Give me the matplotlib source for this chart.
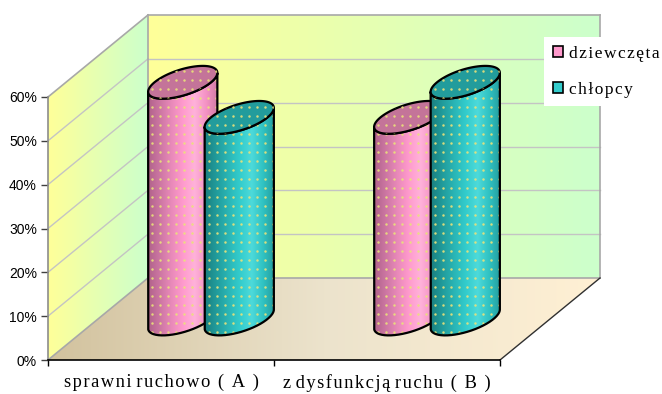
import numpy as np
import matplotlib
matplotlib.use('Agg')
import matplotlib.pyplot as plt
from matplotlib.patches import Polygon, PathPatch, Patch
from matplotlib.path import Path
from matplotlib.colors import LinearSegmentedColormap
from matplotlib.ticker import PercentFormatter
from matplotlib.font_manager import FontProperties

# ---------------- data ----------------
categories = ['sprawni ruchowo ( A )', 'z dysfunkcją ruchu ( B )']
series_names = ['dziewczęta', 'chłopcy']
girls = [0.54, 0.46]
boys = [0.46, 0.54]
yticks = [0.0, 0.1, 0.2, 0.3, 0.4, 0.5, 0.6]


def spaced(s):
    # mimic the wide letter spacing of the original rendering;
    # plain word gaps (letter - space - letter) stay narrow
    out = s[0]
    n = len(s)
    for k in range(1, n):
        a, b = s[k - 1], s[k]
        skip = False
        if b == ' ' and a.isalpha() and k + 1 < n and s[k + 1].isalpha():
            skip = True
        if a == ' ' and b.isalpha() and k - 2 >= 0 and s[k - 2].isalpha():
            skip = True
        if not skip:
            out += '\u200a'
        out += b
    return out


# ---------------- style ----------------
W, H = 662, 394
fig = plt.figure(figsize=(W / 100, H / 100), dpi=100)
fig.patch.set_facecolor('white')
ax_left, ax_bottom, ax_w, ax_h = 48, 34, 452, 263   # front plane in pixels
ax = fig.add_axes([ax_left / W, ax_bottom / H, ax_w / W, ax_h / H])
ax.set_xlim(0, len(categories))
ax.set_ylim(0, yticks[-1])
ax.set_autoscale_on(False)
ax.patch.set_visible(False)

XMAX = len(categories)
VMAX = yticks[-1]
DX = XMAX * 100 / ax_w
DY = VMAX * 82 / ax_h
PXX = XMAX / ax_w
PXY = VMAX / ax_h


def P(x, v, d):
    return (x + d * DX, v + d * DY)


def grad_fill(verts, colors, zorder):
    poly = Polygon(verts, closed=True, facecolor='none', edgecolor='none', zorder=zorder)
    ax.add_patch(poly)
    xs = [p[0] for p in verts]
    ys = [p[1] for p in verts]
    cmap = LinearSegmentedColormap.from_list('g', colors)
    arr = np.linspace(0, 1, 256)[None, :]
    im = ax.imshow(arr, cmap=cmap, extent=(min(xs), max(xs), min(ys), max(ys)),
                   aspect='auto', origin='lower', zorder=zorder, interpolation='bilinear')
    im.set_clip_path(poly)
    im.set_clip_box(fig.bbox)
    return im


wall_cols = ['#FFFF99', '#CCFFCC']
floor_cols = ['#D2C29E', '#ECE3CC', '#FFF0D4']

grad_fill([P(0, 0, 0), P(0, 0, 1), P(0, VMAX, 1), P(0, VMAX, 0)], wall_cols, 0.5)
grad_fill([P(0, 0, 1), P(XMAX, 0, 1), P(XMAX, VMAX, 1), P(0, VMAX, 1)], wall_cols, 0.5)
grad_fill([P(0, 0, 0), P(XMAX, 0, 0), P(XMAX, 0, 1), P(0, 0, 1)], floor_cols, 0.5)

grid_c = '#C4C4C4'
for v in yticks[1:-1]:
    a, b = P(0, v, 0), P(0, v, 1)
    ax.plot([a[0], b[0]], [a[1], b[1]], color=grid_c, lw=1, zorder=1, clip_on=False)
    a, b = P(0, v, 1), P(XMAX, v, 1)
    ax.plot([a[0], b[0]], [a[1], b[1]], color=grid_c, lw=1, zorder=1, clip_on=False)

edge_c = '#A8A8A8'
for (p1, p2) in [((0, VMAX, 0), (0, VMAX, 1)), ((0, VMAX, 1), (XMAX, VMAX, 1)),
                 ((XMAX, VMAX, 1), (XMAX, 0, 1)), ((XMAX, 0, 1), (0, 0, 1)),
                 ((0, 0, 1), (0, VMAX, 1)), ((0, 0, 0), (0, 0, 1))]:
    a, b = P(*p1), P(*p2)
    ax.plot([a[0], b[0]], [a[1], b[1]], color=edge_c, lw=1.2, zorder=1.2, clip_on=False)
a, b = P(XMAX, 0, 0), P(XMAX, 0, 1)
ax.plot([a[0], b[0]], [a[1], b[1]], color='#303030', lw=1, zorder=1.2, clip_on=False)

# ---------------- cylinders ----------------
bar_w = 0.25
rx = bar_w / 2
rz = 0.2
dc = 0.5
th_star = np.arctan2(rz * DX, rx)
R = np.hypot(rx, rz * DX)

series = [girls, boys]
body_cols = [
    ['#B0628A', '#CC76A2', '#E889B9', '#FF9ACD', '#FFB2DA', '#F492C4', '#D07AA4'],
    ['#1A8080', '#219C9C', '#2AB5B5', '#33CCCC', '#4DDADA', '#30C2C2', '#249C9C'],
]
top_cols = ['#C47499', '#229C9C']
dot_col = '#EAE27A'


def ell(cx, v, th):
    d = dc + rz * np.sin(th)
    return cx + rx * np.cos(th) + d * DX, v + d * DY


for i in range(len(categories)):
    for j, vals in enumerate(series):
        val = vals[i]
        cx = i + 0.5 + (j - 0.5) * bar_w
        t1 = np.linspace(th_star, th_star - np.pi, 80)
        t2 = np.linspace(th_star - np.pi, th_star, 80)
        xt, yt = ell(cx, val, t1)
        xb, yb = ell(cx, 0.0, t2)
        verts = np.vstack([np.column_stack([xt, yt]), np.column_stack([xb, yb]),
                           [[xt[0], yt[0]]]])
        zb = 3 + i * 2 + j * 0.5
        body = PathPatch(Path(verts, closed=False), facecolor='none', edgecolor='black',
                         lw=1.6, zorder=zb + 0.2, clip_on=False, joinstyle='round')
        ax.add_patch(body)
        xc = cx + dc * DX
        cmap = LinearSegmentedColormap.from_list('b', body_cols[j])
        im = ax.imshow(np.linspace(0, 1, 256)[None, :], cmap=cmap,
                       extent=(xc - R, xc + R, (dc - rz) * DY, val + (dc + rz) * DY),
                       aspect='auto', origin='lower', zorder=zb, interpolation='bilinear')
        im.set_clip_path(body)
        im.set_clip_box(fig.bbox)
        gx = np.arange(xc - R + 4 * PXX, xc + R, 8 * PXX)
        gy = np.arange((dc - rz) * DY + 3 * PXY, val + (dc + rz) * DY, 9 * PXY)
        GX, GY = np.meshgrid(gx, gy)
        sc = ax.scatter(GX.ravel(), GY.ravel(), s=3.2, color=dot_col, alpha=0.9,
                        linewidths=0, zorder=zb + 0.1)
        sc.set_clip_path(body)
        sc.set_clip_box(fig.bbox)
        tt = np.linspace(0, 2 * np.pi, 160)
        xe, ye = ell(cx, val, tt)
        top = Polygon(np.column_stack([xe, ye]), closed=True, facecolor=top_cols[j],
                      edgecolor='black', lw=1.6, zorder=zb + 0.3, clip_on=False)
        ax.add_patch(top)
        sc2 = ax.scatter(GX.ravel(), GY.ravel(), s=3.2, color=dot_col, alpha=0.9,
                         linewidths=0, zorder=zb + 0.35)
        sc2.set_clip_path(top)
        sc2.set_clip_box(fig.bbox)

# ---------------- axes ----------------
for s in ['top', 'right']:
    ax.spines[s].set_visible(False)
ax.spines['left'].set_color('#8C8C8C')
ax.spines['left'].set_linewidth(1.2)
ax.spines['bottom'].set_color('black')
ax.spines['bottom'].set_linewidth(1.2)

ax.set_yticks(yticks)
ax.yaxis.set_major_formatter(PercentFormatter(1.0, decimals=0))
ax.tick_params(axis='y', length=5, width=1, color='#404040', pad=3, labelsize=10,
               labelcolor='black')
for lbl in ax.get_yticklabels():
    lbl.set_fontfamily('Liberation Sans')

serif = ['Liberation Serif', 'DejaVu Sans']
ax.set_xticks(range(len(categories) + 1))
ax.set_xticklabels([''] * (len(categories) + 1))
ax.tick_params(axis='x', which='major', length=4, width=1, color='black')
ax.set_xticks([k + 0.5 for k in range(len(categories))], minor=True)
ax.set_xticklabels([spaced(c) for c in categories], minor=True, fontfamily=serif,
                   fontsize=13.3)
ax.tick_params(axis='x', which='minor', length=0, pad=10)

# ---------------- legend ----------------
handles = [Patch(facecolor='#FF99CC', edgecolor='black', lw=1.2, label=spaced(series_names[0])),
           Patch(facecolor='#33CCCC', edgecolor='black', lw=1.2, label=spaced(series_names[1]))]
leg = ax.legend(handles=handles, loc='upper left', bbox_to_anchor=(544 / W, 1 - 37 / H),
                bbox_transform=fig.transFigure, frameon=True, fancybox=False,
                edgecolor='none', framealpha=1, facecolor='white',
                prop=FontProperties(family=serif, size=12.5),
                handlelength=0.6, handleheight=0.6, labelspacing=1.15, handletextpad=0.35,
                borderpad=0.5, borderaxespad=0)
leg.set_zorder(20)

fig.savefig('out.png', dpi=100, facecolor='white')
